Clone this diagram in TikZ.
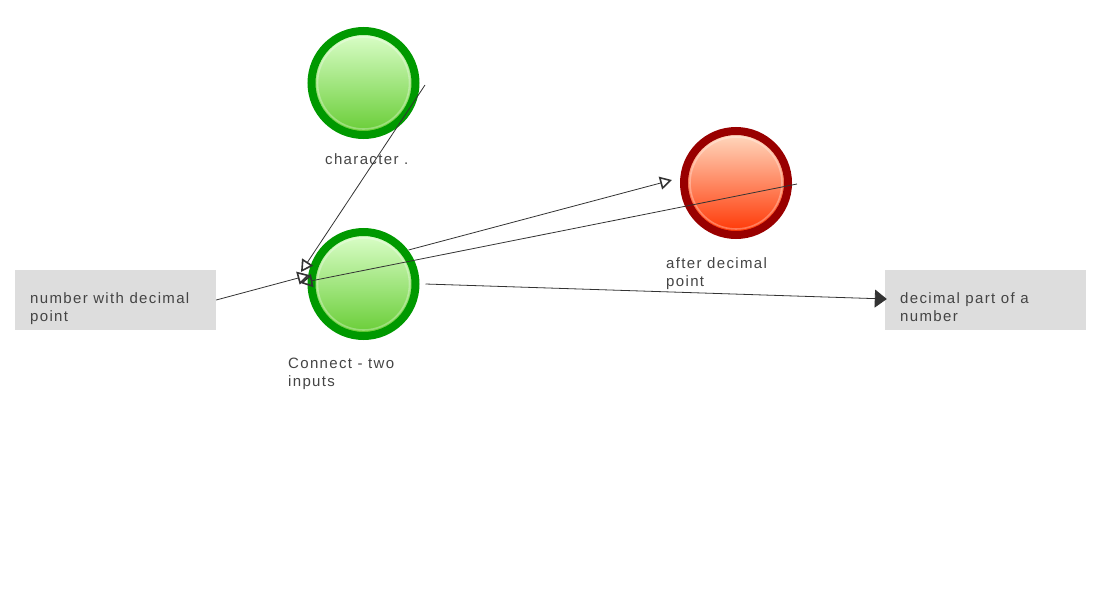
\documentclass[tikz,border=0pt]{standalone}
\usepackage{fontspec}
\setmainfont{Liberation Sans}[LetterSpace=9]
\usetikzlibrary{arrows.meta,calc}
\definecolor{ringg}{HTML}{009900}
\definecolor{ringr}{HTML}{990000}
\definecolor{gtop}{HTML}{DDFFCC}
\definecolor{gbot}{HTML}{66CC33}
\definecolor{rtop}{HTML}{FFDDC4}
\definecolor{rbot}{HTML}{FF3300}
\definecolor{boxfill}{HTML}{DDDDDD}
\definecolor{txt}{HTML}{444444}
\definecolor{wire}{HTML}{333333}
\tikzset{
  ball/.style={circle, minimum size=104pt, inner sep=0, line width=8pt,
    path picture={\draw[white, opacity=0.3, line width=1.6pt]
      (path picture bounding box.center) circle (46);}},
  okball/.style={ball, draw=ringg, top color=gtop, bottom color=gbot},
  endball/.style={ball, draw=ringr, top color=rtop, bottom color=rbot},
  databox/.style={rectangle, fill=boxfill, minimum width=201pt, minimum height=60pt, inner sep=0},
  lab/.style={anchor=base west, inner sep=0, align=left, font=\fontsize{15}{18}\selectfont, text=txt},
  wireline/.style={draw=wire, line width=0.8pt},
  openarr/.style={wireline, -{Triangle[open, length=12pt, width=13pt, line width=1.6pt]}},
  fullarr/.style={wireline, -{Triangle[length=12pt, width=18pt]}}
}
\begin{document}
\begin{tikzpicture}[x=1pt,y=-1pt]
\useasboundingbox (0,0) rectangle (1100,600);
% nodes
\node[okball] (char) at (363.5,83) {};
\node[okball] (con) at (363.5,284) {};
\node[endball] (after) at (736,183) {};
\node[databox] (num) at (115.5,300) {};
\node[databox] (dec) at (985.5,300) {};
% labels (base anchor = baseline of last line)
\node[lab] (charlab) at (325,164) {character .};
\node[lab] (conlab) at (288,386) {Connect - two\\inputs};
\node[lab] (afterlab) at (666,286) {after decimal\\point};
\node[lab] (numlab) at (30,321) {number with decimal\\point};
\node[lab] (declab) at (900,321) {decimal part of a\\number};
% connectors
\draw[openarr] ([shift={(61.5,2)}]char.center) -- ([shift={(-62.5,-12)}]con.center);
\draw[openarr] ([shift={(61,1)}]after.center) -- ([shift={(-63,-1)}]con.center);
\draw[openarr] (num.east) -- ([shift={(-54,-9)}]con.center);
\draw[openarr] ([shift={(45,-34)}]con.center) -- ([shift={(-64,-3)}]after.center);
\draw[fullarr] ([shift={(62,0)}]con.center) -- ([shift={(2,-1)}]dec.west);
\end{tikzpicture}
\end{document}
